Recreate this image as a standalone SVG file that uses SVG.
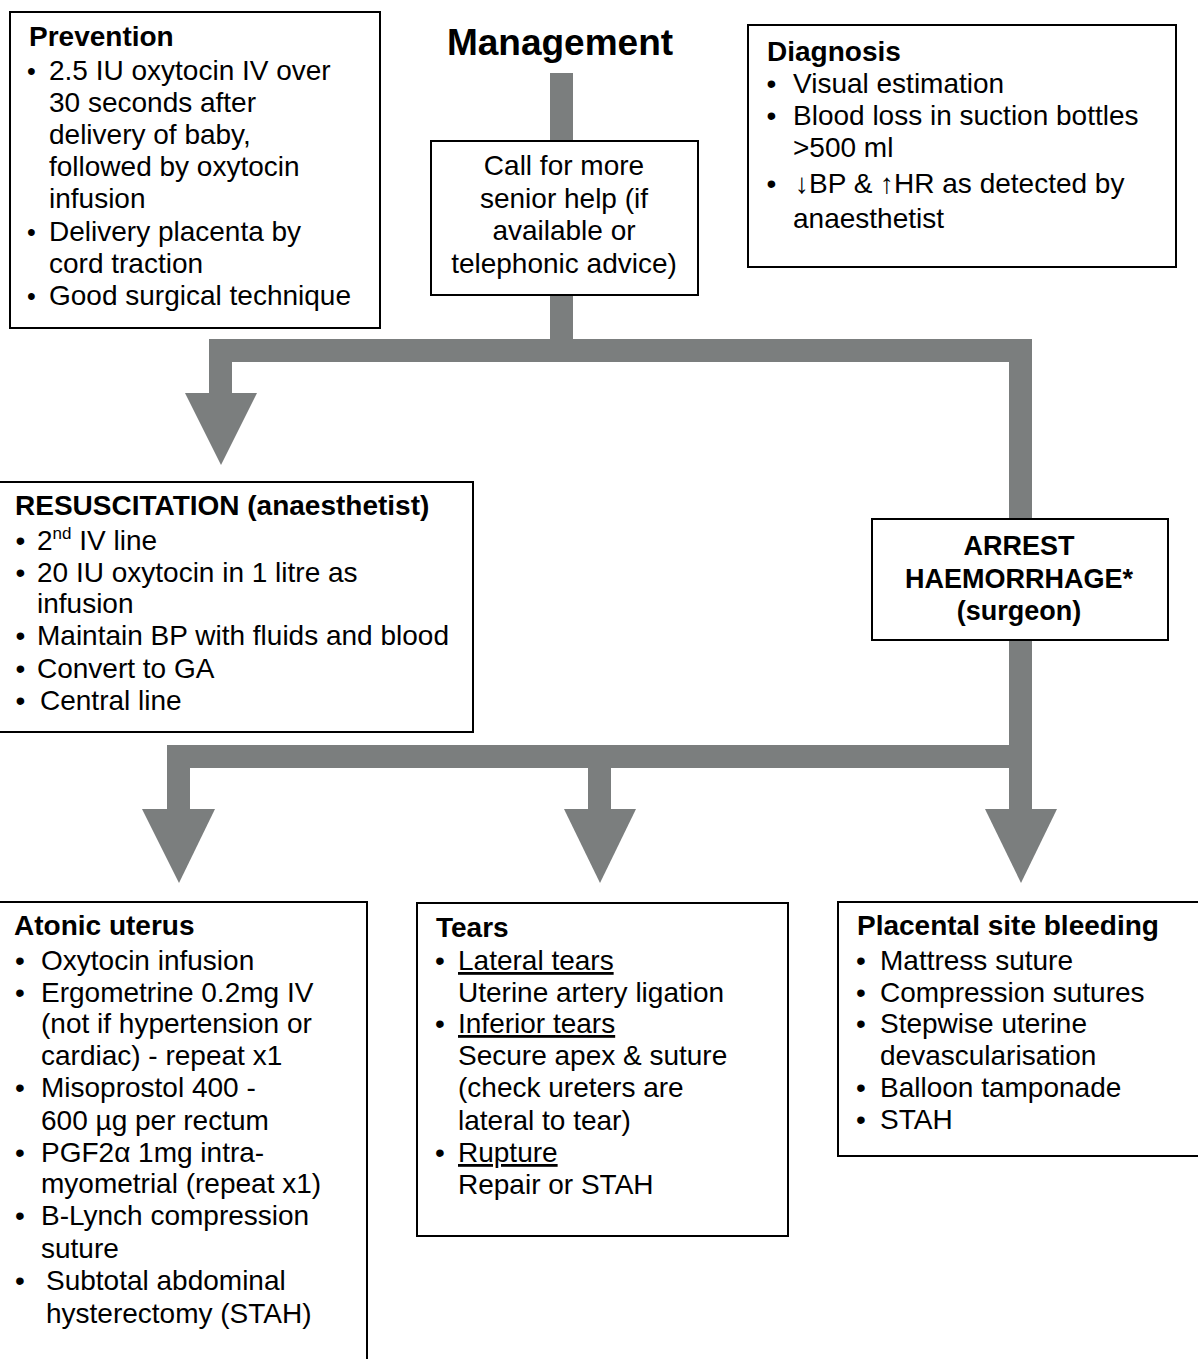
<svg xmlns="http://www.w3.org/2000/svg" width="1198" height="1359" viewBox="0 0 1198 1359">
<style>
text{font-family:"Liberation Sans",Arial,sans-serif;font-size:28px;fill:#000}
.b{font-weight:bold}
.c{text-anchor:middle}
.box{fill:#fff;stroke:#000;stroke-width:2}
.con{fill:#7b7e7e}
.u{text-decoration:underline}
</style>
<rect width="1198" height="1359" fill="#fff"/>
<g id="connectors" class="con">
<rect x="550" y="73" width="23" height="280"/>
<rect x="209" y="339" width="823" height="23"/>
<rect x="209" y="339" width="23" height="55"/>
<polygon points="185,393 257,393 221,465"/>
<rect x="1009" y="339" width="23" height="472"/>
<rect x="167" y="745" width="865" height="23"/>
<rect x="167" y="745" width="23" height="65"/>
<polygon points="142,809 215,809 179,883"/>
<rect x="588" y="745" width="23" height="65"/>
<polygon points="564,809 636,809 600,883"/>
<polygon points="985,809 1057,809 1021,883"/>
</g>
<g id="title">
<text x="560" y="55" class="b c" style="font-size:37px">Management</text>
</g>
<g id="prevention">
<rect class="box" x="10" y="12" width="370" height="316"/>
<text x="29" y="46" class="b">Prevention</text>
<text x="31.5" y="80" class="c" style="font-size:25px">•</text>
<text x="49" y="80">2.5 IU oxytocin IV over</text>
<text x="49" y="112">30 seconds after</text>
<text x="49" y="144">delivery of baby,</text>
<text x="49" y="176">followed by oxytocin</text>
<text x="49" y="208">infusion</text>
<text x="31.5" y="241" class="c" style="font-size:25px">•</text>
<text x="49" y="241">Delivery placenta by</text>
<text x="49" y="273">cord traction</text>
<text x="31.5" y="305" class="c" style="font-size:25px">•</text>
<text x="49" y="305">Good surgical technique</text>
</g>
<g id="call">
<rect class="box" x="431" y="141" width="267" height="154"/>
<text x="564" y="175" class="c">Call for more</text>
<text x="564" y="208" class="c">senior help (if</text>
<text x="564" y="240" class="c">available or</text>
<text x="564" y="273" class="c">telephonic advice)</text>
</g>
<g id="diagnosis">
<rect class="box" x="748" y="25" width="428" height="242"/>
<text x="767" y="61" class="b">Diagnosis</text>
<text x="771.5" y="93" class="c">•</text>
<text x="793" y="93">Visual estimation</text>
<text x="771.5" y="125" class="c">•</text>
<text x="793" y="125">Blood loss in suction bottles</text>
<text x="793" y="157">&gt;500 ml</text>
<text x="771.5" y="193" class="c">•</text>
<text x="795" y="193">↓BP &amp; ↑HR as detected by</text>
<text x="793" y="228">anaesthetist</text>
</g>
<g id="resuscitation">
<rect class="box" x="-3" y="482" width="476" height="250"/>
<text x="15" y="515" class="b">RESUSCITATION (anaesthetist)</text>
<text x="20.5" y="550" class="c">•</text>
<text x="37" y="550">2<tspan dy="-11" style="font-size:17px">nd</tspan><tspan dy="11"> IV line</tspan></text>
<text x="20.5" y="582" class="c">•</text>
<text x="37" y="582">20 IU oxytocin in 1 litre as</text>
<text x="37" y="613">infusion</text>
<text x="20.5" y="645" class="c">•</text>
<text x="37" y="645">Maintain BP with fluids and blood</text>
<text x="20.5" y="678" class="c">•</text>
<text x="37" y="678">Convert to GA</text>
<text x="20.5" y="710" class="c">•</text>
<text x="40" y="710">Central line</text>
</g>
<g id="arrest">
<rect class="box" x="872" y="519" width="296" height="121"/>
<text x="1019" y="555" class="b c" style="font-size:27px">ARREST</text>
<text x="1019" y="588" class="b c" style="font-size:27px">HAEMORRHAGE*</text>
<text x="1019" y="620" class="b c" style="font-size:27px">(surgeon)</text>
</g>
<g id="atonic">
<rect class="box" x="-3" y="902" width="370" height="480"/>
<text x="14" y="935" class="b">Atonic uterus</text>
<text x="20" y="970" class="c">•</text>
<text x="41" y="970">Oxytocin infusion</text>
<text x="20" y="1002" class="c">•</text>
<text x="41" y="1002">Ergometrine 0.2mg IV</text>
<text x="41" y="1033">(not if hypertension or</text>
<text x="41" y="1065">cardiac) - repeat x1</text>
<text x="20" y="1097" class="c">•</text>
<text x="41" y="1097">Misoprostol 400 -</text>
<text x="41" y="1130">600 µg per rectum</text>
<text x="20" y="1162" class="c">•</text>
<text x="41" y="1162">PGF2α 1mg intra-</text>
<text x="41" y="1193">myometrial (repeat x1)</text>
<text x="20" y="1225" class="c">•</text>
<text x="41" y="1225">B-Lynch compression</text>
<text x="41" y="1258">suture</text>
<text x="20" y="1290" class="c">•</text>
<text x="46" y="1290">Subtotal abdominal</text>
<text x="46" y="1323">hysterectomy (STAH)</text>
</g>
<g id="tears">
<rect class="box" x="417" y="903" width="371" height="333"/>
<text x="436" y="937" class="b">Tears</text>
<text x="440" y="970" class="c">•</text>
<text x="458" y="970" class="u">Lateral tears</text>
<text x="458" y="1002">Uterine artery ligation</text>
<text x="440" y="1033" class="c">•</text>
<text x="458" y="1033" class="u">Inferior tears</text>
<text x="458" y="1065">Secure apex &amp; suture</text>
<text x="458" y="1097">(check ureters are</text>
<text x="458" y="1130">lateral to tear)</text>
<text x="440" y="1162" class="c">•</text>
<text x="458" y="1162" class="u">Rupture</text>
<text x="458" y="1194">Repair or STAH</text>
</g>
<g id="placental">
<rect class="box" x="838" y="902" width="370" height="254"/>
<text x="857" y="935" class="b">Placental site bleeding</text>
<text x="861" y="970" class="c">•</text>
<text x="880" y="970">Mattress suture</text>
<text x="861" y="1002" class="c">•</text>
<text x="880" y="1002">Compression sutures</text>
<text x="861" y="1033" class="c">•</text>
<text x="880" y="1033">Stepwise uterine</text>
<text x="880" y="1065">devascularisation</text>
<text x="861" y="1097" class="c">•</text>
<text x="880" y="1097">Balloon tamponade</text>
<text x="861" y="1129" class="c">•</text>
<text x="880" y="1129">STAH</text>
</g>
</svg>
